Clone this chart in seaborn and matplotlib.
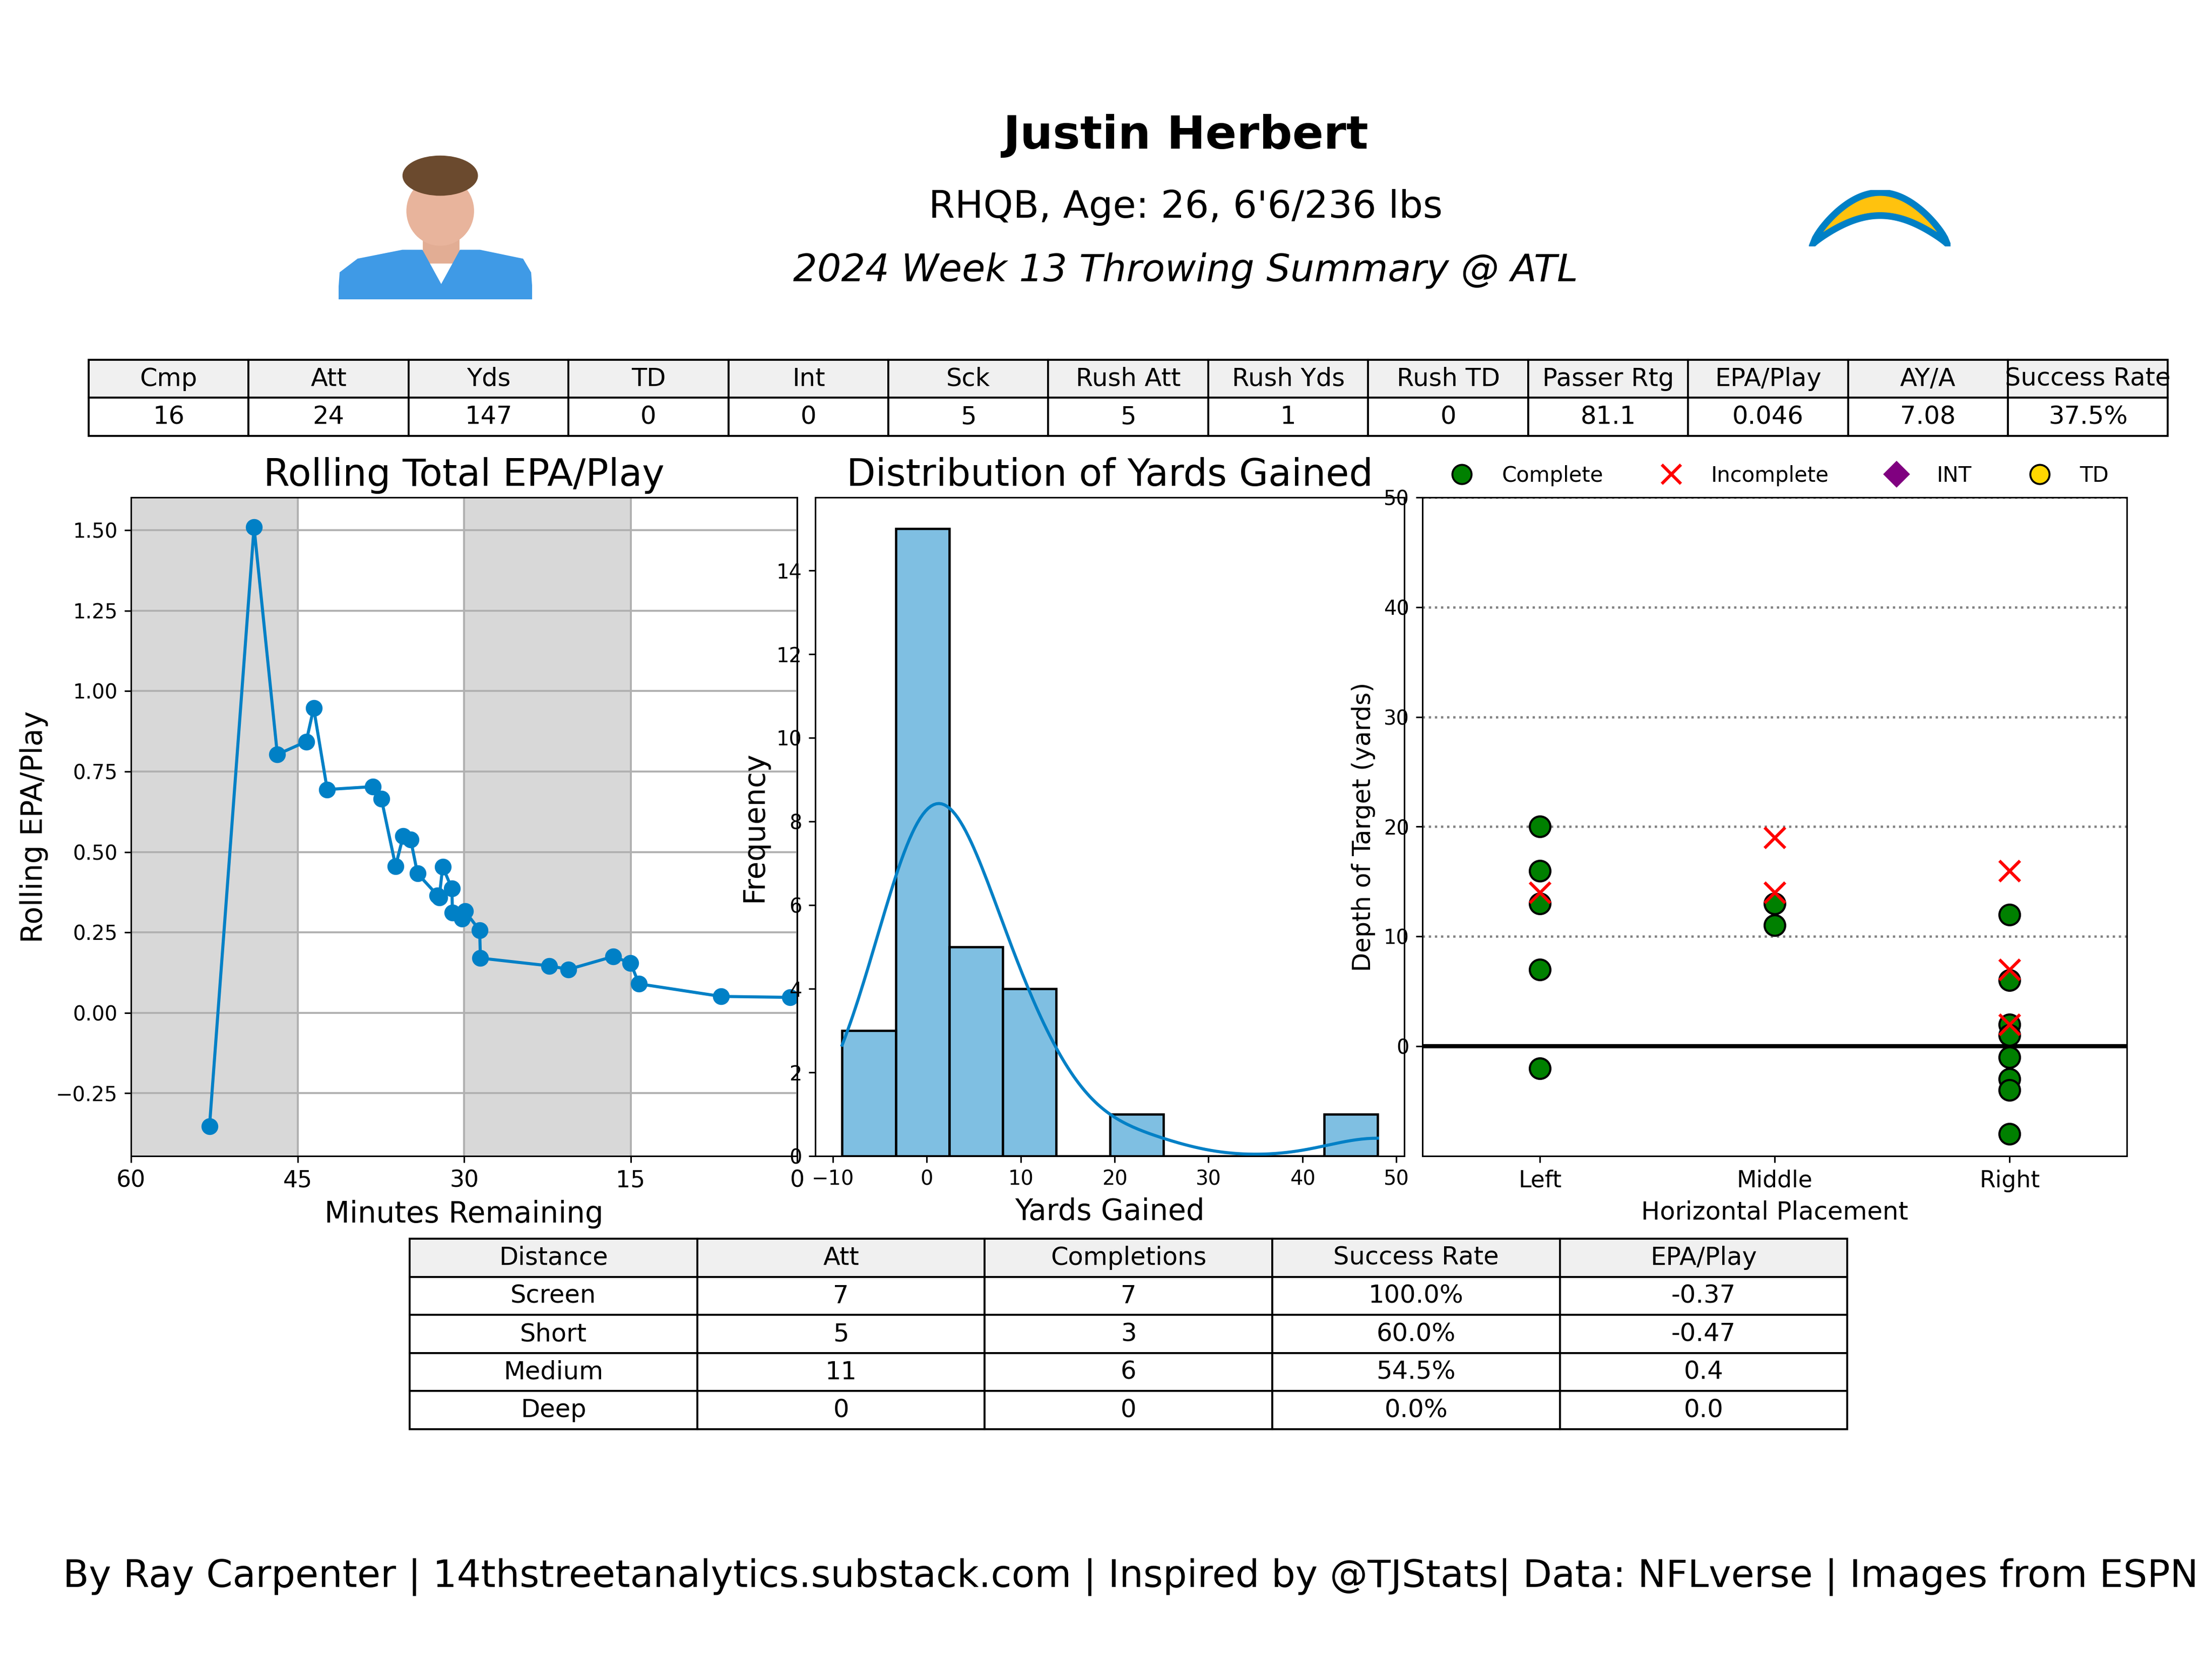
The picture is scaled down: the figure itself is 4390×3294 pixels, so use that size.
import numpy as np
import pandas as pd
import matplotlib
matplotlib.use("Agg")
import matplotlib.pyplot as plt
from matplotlib.lines import Line2D
from matplotlib.patches import Polygon, Ellipse
import seaborn as sns

# ---- data ----
# rolling EPA/play vs minutes remaining
minutes = [52.93, 48.92, 46.82, 44.22, 43.55, 42.33, 38.21, 37.45, 36.17, 35.49,
           34.81, 34.2, 32.39, 32.24, 31.93, 31.1, 31.05, 30.19, 29.92, 28.6,
           28.53, 22.32, 20.6, 16.58, 15.01, 14.25, 6.85, 0.63]
rolling_epa = [-0.352, 1.509, 0.803, 0.843, 0.947, 0.694, 0.703, 0.665, 0.456, 0.549,
               0.538, 0.433, 0.365, 0.358, 0.454, 0.386, 0.311, 0.293, 0.316, 0.256,
               0.170, 0.146, 0.135, 0.175, 0.155, 0.090, 0.051, 0.048]

# yards gained per play (passes + rushes)
yards = [-9, -6, -4, -3, -2, -1, 0, 0, 0, 0, 0, 0, 1, 1, 2, 2, 2, 2,
         3, 4, 6, 7, 8, 9, 10, 12, 13, 22, 48]

# pass placement
placements = ['Left', 'Middle', 'Right']
cmp_place = ['Left'] * 5 + ['Middle'] * 2 + ['Right'] * 8
cmp_depth = [20, 16, 13, 7, -2, 13, 11, 12, 6, 2, 1, -1, -3, -4, -8]
inc_place = ['Left', 'Middle', 'Middle', 'Right', 'Right', 'Right']
inc_depth = [14, 19, 14, 16, 7, 2]

# summary tables
stat_cols = ['Cmp', 'Att', 'Yds', 'TD', 'Int', 'Sck', 'Rush Att', 'Rush Yds',
             'Rush TD', 'Passer Rtg', 'EPA/Play', 'AY/A', 'Success Rate']
stat_vals = ['16', '24', '147', '0', '0', '5', '5', '1', '0', '81.1', '0.046', '7.08', '37.5%']

dist_cols = ['Distance', 'Att', 'Completions', 'Success Rate', 'EPA/Play']
dist_names = ['Screen', 'Short', 'Medium', 'Deep']
dist_att = [7, 5, 11, 0]
dist_cmp = [7, 3, 6, 0]
dist_sr = ['100.0%', '60.0%', '54.5%', '0.0%']
dist_epa = ['-0.37', '-0.47', '0.4', '0.0']

blue = '#0080C6'
gold = '#FFC20E'

W, H = 4390, 3294
fig = plt.figure(figsize=(16.0, 12.005), dpi=274.4)


def frac(x0, y0, x1, y1):
    # pixel box (top-left origin) -> figure fraction rect
    return [x0 / W, 1 - y1 / H, (x1 - x0) / W, (y1 - y0) / H]


# ---- header text ----
fig.text(0.536, 0.918, 'Justin Herbert', ha='center', va='center', fontsize=24, fontweight='bold')
fig.text(0.536, 0.875, "RHQB, Age: 26, 6'6/236 lbs", ha='center', va='center', fontsize=19.7)
fig.text(0.536, 0.837, '2024 Week 13 Throwing Summary @ ATL', ha='center', va='center',
         fontsize=19.7, style='italic')

# stylised headshot placeholder
ax_img = fig.add_axes(frac(672, 302, 1056, 594))
ax_img.set_xlim(0, 1)
ax_img.set_ylim(0, 1)
ax_img.axis('off')
ax_img.add_patch(Polygon([(0.44, 0.25), (0.44, 0.5), (0.62, 0.5), (0.62, 0.25)], color='#e2ad94'))
ax_img.add_patch(Polygon([(0.0, 0.0), (0.01, 0.18), (0.1, 0.27), (0.33, 0.33), (0.43, 0.33),
                          (0.53, 0.09), (0.63, 0.33), (0.73, 0.33), (0.95, 0.27), (0.99, 0.18),
                          (1.0, 0.0)], color='#3f9ae6'))
ax_img.add_patch(Ellipse((0.525, 0.6), 0.34, 0.46, color='#e8b49c'))
ax_img.add_patch(Ellipse((0.525, 0.84), 0.38, 0.26, color='#6b4a2e'))

# stylised bolt logo
ax_logo = fig.add_axes(frac(3590, 377, 3872, 489))
ax_logo.set_xlim(-0.03, 1.03)
ax_logo.set_ylim(-0.05, 1.05)
ax_logo.axis('off')
t = np.linspace(0, 1, 60)
outer = np.column_stack([t, np.sin(np.pi * t) ** 0.75])
inner = np.column_stack([t[::-1], 0.55 * np.sin(np.pi * t[::-1]) ** 0.9])
ax_logo.add_patch(Polygon(np.vstack([outer, inner]), facecolor=gold, edgecolor=blue, lw=3.5))

# ---- top stats table ----
ax_t1 = fig.add_axes(frac(176, 714, 4302, 865))
ax_t1.axis('off')
tb1 = ax_t1.table(cellText=[stat_vals], colLabels=stat_cols, cellLoc='center',
                  colColours=['#f0f0f0'] * len(stat_cols), bbox=[0, 0, 1, 1])
tb1.auto_set_font_size(False)
tb1.set_fontsize(13)

# ---- rolling EPA ----
ax1 = fig.add_axes(frac(260, 987, 1582, 2294))
ax1.axvspan(60, 45, color='#d8d8d8', zorder=0)
ax1.axvspan(30, 15, color='#d8d8d8', zorder=0)
roll_df = pd.DataFrame({'minutes': minutes, 'epa': rolling_epa})
sns.lineplot(data=roll_df, x='minutes', y='epa', sort=False, marker='o', color=blue,
             markersize=8, markeredgecolor=blue, linewidth=1.6, ax=ax1)
ax1.set_xlim(60, 0)
ax1.set_xticks([60, 45, 30, 15, 0])
ax1.grid(True, color='#b0b0b0', linewidth=1.0)
ax1.set_title('Rolling Total EPA/Play', fontsize=19.7)
ax1.set_xlabel('Minutes Remaining', fontsize=15.2)
ax1.set_ylabel('Rolling EPA/Play', fontsize=15.2)
ax1.tick_params(axis='x', labelsize=12)
ax1.tick_params(axis='y', labelsize=10.5)

# ---- yards distribution ----
ax2 = fig.add_axes(frac(1618, 987, 2787, 2294))
sns.histplot(x=yards, bins=10, kde=True, color=blue, alpha=0.5, edgecolor='black',
             linewidth=1.2, line_kws={'linewidth': 1.6}, ax=ax2)
ax2.set_title('Distribution of Yards Gained', fontsize=19.7)
ax2.set_xlabel('Yards Gained', fontsize=15.2)
ax2.set_ylabel('Frequency', fontsize=15.2)
ax2.tick_params(labelsize=10.5)

# ---- depth of target ----
ax3 = fig.add_axes(frac(2823, 987, 4221, 2294))
cmp_df = pd.DataFrame({'x': [placements.index(p) for p in cmp_place], 'depth': cmp_depth})
inc_df = pd.DataFrame({'x': [placements.index(p) for p in inc_place], 'depth': inc_depth})
ax3.axhline(0, color='black', linewidth=2.2, zorder=1)
sns.scatterplot(data=cmp_df, x='x', y='depth', color='green', edgecolor='black',
                linewidth=1.1, s=115, zorder=3, ax=ax3)
sns.scatterplot(data=inc_df, x='x', y='depth', color='red', marker='x',
                linewidth=1.6, s=115, zorder=4, ax=ax3)
ax3.set_xlim(-0.5, 2.5)
ax3.set_ylim(-10, 50)
ax3.set_yticks(range(0, 51, 10))
ax3.set_xticks(range(len(placements)))
ax3.set_xticklabels(placements)
ax3.yaxis.grid(True, linestyle=':', color='gray', linewidth=1.2)
ax3.set_axisbelow(True)
ax3.set_xlabel('Horizontal Placement', fontsize=13)
ax3.set_ylabel('Depth of Target (yards)', fontsize=13)
ax3.tick_params(axis='x', labelsize=12)
ax3.tick_params(axis='y', labelsize=10.5)
handles = [
    Line2D([], [], ls='', marker='o', mfc='green', mec='black', ms=10, label='Complete'),
    Line2D([], [], ls='', marker='x', color='red', mew=1.6, ms=10, label='Incomplete'),
    Line2D([], [], ls='', marker='D', mfc='purple', mec='purple', ms=9, label='INT'),
    Line2D([], [], ls='', marker='o', mfc='gold', mec='black', ms=10, label='TD'),
]
ax3.legend(handles=handles, loc='lower center', bbox_to_anchor=(0.5, 0.988), ncol=4,
           frameon=False, fontsize=11, columnspacing=2.2, handletextpad=0.9)

# ---- distance table ----
ax_t2 = fig.add_axes(frac(813, 2458, 3666, 2836))
ax_t2.axis('off')
rows = [[n, str(a), str(c), s, e] for n, a, c, s, e in
        zip(dist_names, dist_att, dist_cmp, dist_sr, dist_epa)]
tb2 = ax_t2.table(cellText=rows, colLabels=dist_cols, cellLoc='center',
                  colColours=['#f0f0f0'] * len(dist_cols), bbox=[0, 0, 1, 1])
tb2.auto_set_font_size(False)
tb2.set_fontsize(13)

# ---- footer ----
fig.text(0.511, 0.05, 'By Ray Carpenter | 14thstreetanalytics.substack.com | Inspired by @TJStats| '
         'Data: NFLverse | Images from ESPN', ha='center', va='center', fontsize=19.7)

fig.savefig('out.png', dpi=274.4)
